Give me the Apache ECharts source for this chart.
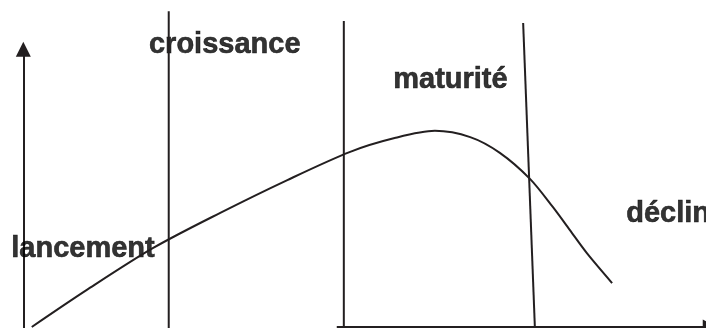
<!DOCTYPE html>
<html>
<head>
<meta charset="utf-8">
<script src="https://cdn.jsdelivr.net/npm/echarts/dist/echarts.min.js"></script>
<style>
  html, body { margin: 0; padding: 0; background: #fff; }
  #chart { width: 706px; height: 328px; }
</style>
</head>
<body>
<div id="chart"></div>
<script>
// product life cycle : time (0-100) vs sales (0-100)
const curveTime  = [4.5, 12.3, 21.7, 31.2, 40.7, 49.6, 55.9, 61.6, 66.6, 70.8, 75.1, 78.3, 80.7, 83.1, 86.7];
const curveSales = [0.3, 11.6, 24.4, 35.1, 45.1, 53.7, 57.9, 60.1, 58.2, 53.4, 45.4, 36.9, 29.9, 22.9, 13.7];

// phase boundaries (bottom time, top time, top height)
const boundBottomTime = [23.9, 48.7, 75.8];
const boundTopTime    = [23.9, 48.7, 74.1];
const boundTopSales   = [96.6, 93.6, 93.0];

// phase names and where they sit
const phaseNames = ['lancement', 'croissance', 'maturité', 'déclin'];
const phaseTime  = [1.6, 21.1, 55.7, 88.7];
const phaseSales = [24.1, 86.3, 75.6, 34.8];

// axes: [start, end]
const yAxisArrow = [[3.3, -2], [3.3, 85.0]];
const xAxisArrow = [[47.7, 0.3], [100.6, 0.3]];

var ink = '#231f20';

var series = [];

series.push({
  type: 'line',
  smooth: 0.3,
  symbol: 'none',
  data: curveTime.map(function (t, i) { return [t, curveSales[i]]; }),
  lineStyle: { color: ink, width: 2 }
});

boundBottomTime.forEach(function (t, i) {
  series.push({
    type: 'line',
    symbol: 'none',
    clip: false,
    data: [[t, -2], [boundTopTime[i], boundTopSales[i]]],
    lineStyle: { color: ink, width: 2 }
  });
});

series.push({
  type: 'lines',
  coordinateSystem: 'cartesian2d',
  clip: false,
  symbol: ['none', 'triangle'],
  symbolSize: [16, 15],
  lineStyle: { color: ink, width: 2, opacity: 1 },
  data: [{ coords: yAxisArrow }, { coords: xAxisArrow }]
});

series.push({
  type: 'scatter',
  symbolSize: 0,
  data: phaseNames.map(function (n, i) { return { name: n, value: [phaseTime[i], phaseSales[i]] }; }),
  label: {
    show: true,
    position: 'right',
    distance: 0,
    formatter: '{b}',
    color: '#000',
    textBorderColor: '#000',
    textBorderWidth: 0.6,
    fontFamily: 'Liberation Sans, Arial, sans-serif',
    fontWeight: 'bold',
    fontSize: 29
  }
});

var chart = echarts.init(document.getElementById('chart'), null, { renderer: 'canvas' });
chart.setOption({
  animation: false,
  backgroundColor: '#fff',
  grid: { left: 0, right: 0, top: 0, bottom: 0 },
  xAxis: { type: 'value', min: 0, max: 100, show: false },
  yAxis: { type: 'value', min: 0, max: 100, show: false },
  series: series
});
</script>
</body>
</html>
